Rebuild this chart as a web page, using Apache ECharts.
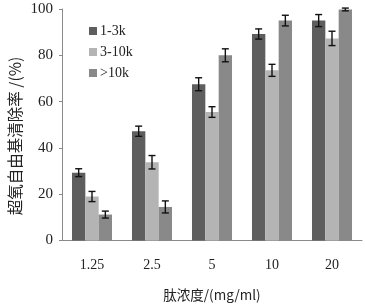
<!DOCTYPE html>
<html><head><meta charset="utf-8">
<script src="https://cdn.jsdelivr.net/npm/echarts@6/dist/echarts.min.js"></script>
<style>html,body{margin:0;padding:0;background:#fff}#c{width:365px;height:307px}</style>
</head><body><div id="c"></div>
<script>
const categories = ['1.25', '2.5', '5', '10', '20'];
const seriesNames = ['1-3k', '3-10k', '>10k'];
const vals1 = [29.3, 47.2, 67.5, 89.2, 95.0];
const vals2 = [19.0, 33.8, 55.5, 73.5, 87.3];
const vals3 = [11.2, 14.5, 80.0, 95.0, 99.8];
const err1 = [1.7, 2.2, 2.8, 2.2, 2.6];
const err2 = [2.2, 2.9, 2.3, 2.6, 3.1];
const err3 = [1.5, 2.6, 2.8, 2.3, 0.6];
const yAxisTitle = '超氧自由基清除率 /(%)';
const xAxisTitle = '肽浓度/(mg/ml)';
const colors = ['#5e5e5e', '#b4b4b4', '#898989'];
const serif = '"Liberation Serif", "Times New Roman", serif';
const cjk = '"Noto Sans CJK SC", sans-serif';

const allVals = [vals1, vals2, vals3];
const allErr = [err1, err2, err3];

function errSeries(idx) {
  return {
    type: 'custom',
    z: 10,
    data: allVals[idx].map((v, i) => [i, v, allErr[idx][i]]),
    renderItem: function (params, api) {
      const xi = api.value(0), v = api.value(1), e = api.value(2);
      const band = api.size([1, 0])[0];
      const bw = band * (2 / 3) / 3;
      const off = bw * (idx - 1);
      const top = api.coord([xi, Math.min(v + e, 100.5)]);
      const bot = api.coord([xi, v - e]);
      const x = top[0] + off;
      const cap = 3.5;
      const st = { stroke: '#111', lineWidth: 1.4 };
      return {
        type: 'group',
        children: [
          { type: 'line', shape: { x1: x, y1: top[1], x2: x, y2: bot[1] }, style: st },
          { type: 'line', shape: { x1: x - cap, y1: top[1], x2: x + cap, y2: top[1] }, style: st },
          { type: 'line', shape: { x1: x - cap, y1: bot[1], x2: x + cap, y2: bot[1] }, style: st }
        ]
      };
    }
  };
}

const chart = echarts.init(document.getElementById('c'));
chart.setOption({
  animation: false,
  backgroundColor: '#fff',
  grid: { left: 62, right: 3, top: 9, bottom: 63 },
  legend: {
    orient: 'vertical',
    left: 84,
    top: 19,
    itemGap: 7,
    itemWidth: 8,
    itemHeight: 8,
    icon: 'rect',
    textStyle: { fontFamily: serif, fontSize: 14, color: '#222', padding: [0, 0, 0, -2] },
    data: seriesNames
  },
  graphic: [{
    type: 'text',
    x: 15, y: 136,
    rotation: Math.PI / 2,
    style: {
      text: yAxisTitle,
      font: '15.5px ' + cjk,
      fill: '#222',
      align: 'center',
      verticalAlign: 'middle'
    }
  }],
  xAxis: {
    type: 'category',
    data: categories,
    name: xAxisTitle,
    nameLocation: 'middle',
    nameGap: 48,
    nameTextStyle: { fontFamily: cjk, fontSize: 13.5, color: '#222' },
    axisLine: { lineStyle: { color: '#8a8a8a', width: 1 } },
    axisTick: { length: 4, lineStyle: { color: '#8a8a8a' } },
    axisLabel: { fontFamily: serif, fontSize: 14, color: '#222', margin: 18 }
  },
  yAxis: {
    type: 'value',
    min: 0, max: 100, interval: 20,
    splitLine: { show: false },
    axisLine: { show: true, lineStyle: { color: '#8a8a8a', width: 1 } },
    axisTick: { show: true, length: 3, lineStyle: { color: '#8a8a8a' } },
    axisLabel: { fontFamily: serif, fontSize: 15, color: '#222', margin: 9 }
  },
  series: [
    { name: seriesNames[0], type: 'bar', data: vals1, barGap: '0%', barCategoryGap: '33.3%', itemStyle: { color: colors[0] } },
    { name: seriesNames[1], type: 'bar', data: vals2, barGap: '0%', barCategoryGap: '33.3%', itemStyle: { color: colors[1] } },
    { name: seriesNames[2], type: 'bar', data: vals3, barGap: '0%', barCategoryGap: '33.3%', itemStyle: { color: colors[2] } },
    errSeries(0), errSeries(1), errSeries(2)
  ]
});
</script></body></html>
